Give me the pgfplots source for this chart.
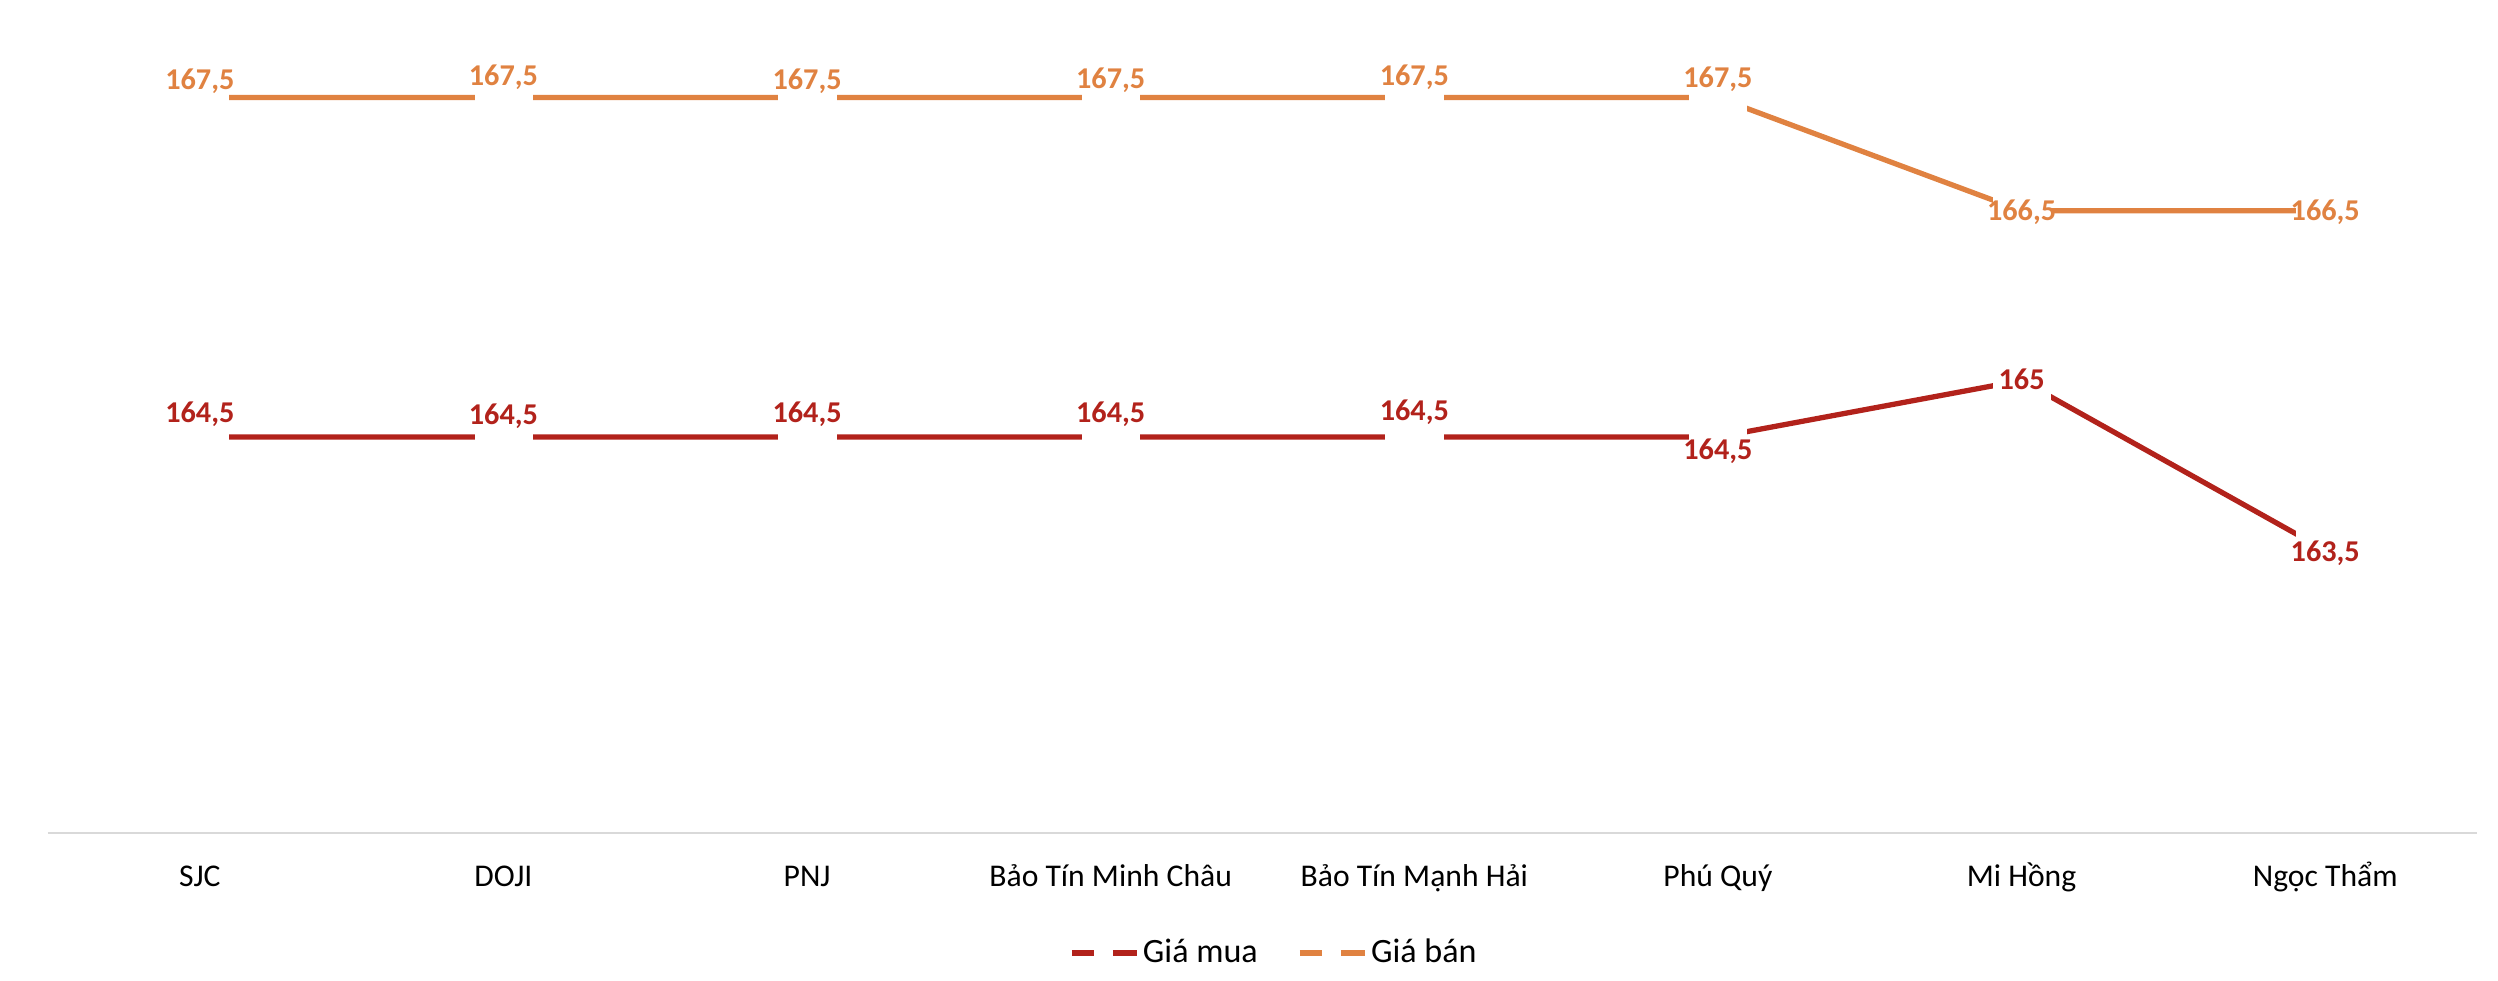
\documentclass[border=0pt]{standalone}
\usepackage{fontspec}
\setmainfont{Carlito}
\usepackage{pgfplots}
\usepackage{pgfplotstable}
\pgfplotsset{compat=1.18}

\definecolor{buy}{RGB}{178,34,27}
\definecolor{sell}{RGB}{224,130,65}
\definecolor{axisgray}{RGB}{217,217,217}

% gia mua / gia ban, dy = label offset in pt
\pgfplotstableread{
x y dy lab
0 164.5 6.5 164,5
1 164.5 6.0 164,5
2 164.5 6.5 164,5
3 164.5 6.5 164,5
4 164.5 7.2 164,5
5 164.5 -3.9 164,5
6 165 0.3 165
7 163.5 -0.8 163,5
}\buy

\pgfplotstableread{
x y dy lab
0 167.5 4.8 167,5
1 167.5 5.7 167,5
2 167.5 4.8 167,5
3 167.5 5.0 167,5
4 167.5 5.7 167,5
5 167.5 5.1 167,5
6 166.5 -0.5 166,5
7 166.5 -0.5 166,5
}\sell

\begin{document}
\begin{tikzpicture}
\begin{axis}[
  at={(0,0)}, anchor=south west,
  scale only axis,
  width=24.29cm, height=7.92cm,
  xmin=-0.5, xmax=7.5, ymin=161, ymax=168,
  clip=false,
  axis x line*=bottom,
  axis y line=none,
  x axis line style={-, draw=axisgray, line width=0.6pt},
  xtick={0,...,7},
  xticklabels={SJC, DOJI, PNJ, Bảo Tín Minh Châu, Bảo Tín Mạnh Hải, Phú Quý, Mi Hồng, Ngọc Thẩm},
  major tick length=0pt,
  xticklabel style={anchor=base, yshift=-0.53cm, font=\fontsize{9}{11}\selectfont},
  ytick=\empty,
  legend style={at={(0.505,-0.1515)}, anchor=center, draw=none,
    legend columns=2, font=\fontsize{9.7}{11}\selectfont,
    nodes={inner xsep=1pt},
    /tikz/every even column/.append style={column sep=0.36cm}},
  legend image code/.code={
    \draw[#1, line width=1.5pt] (0cm,0cm) -- (0.22cm,0cm);
    \draw[#1, line width=1.5pt] (0.41cm,0cm) -- (0.65cm,0cm);},
  nodes near coords,
  point meta=explicit symbolic,
]
\addplot[buy, line width=1.5pt, mark=square*, mark size=0.287cm,
  mark options={fill=white, draw=white, line width=0.1pt},
  visualization depends on={\thisrow{dy} \as \dy},
  every node near coord/.append style={anchor=center, yshift=\dy pt,
    font=\fontsize{8.6}{9}\selectfont\bfseries, text=buy}]
  table[x=x, y=y, meta=lab] {\buy};
\addlegendentry{Giá mua}
\addplot[sell, line width=1.5pt, mark=square*, mark size=0.287cm,
  mark options={fill=white, draw=white, line width=0.1pt},
  visualization depends on={\thisrow{dy} \as \dy},
  every node near coord/.append style={anchor=center, yshift=\dy pt,
    font=\fontsize{8.6}{9}\selectfont\bfseries, text=sell}]
  table[x=x, y=y, meta=lab] {\sell};
\addlegendentry{Giá bán}
\end{axis}
\pgfresetboundingbox
\path (-0.48cm,-1.47cm) rectangle (24.50cm,8.33cm);
\end{tikzpicture}
\end{document}
